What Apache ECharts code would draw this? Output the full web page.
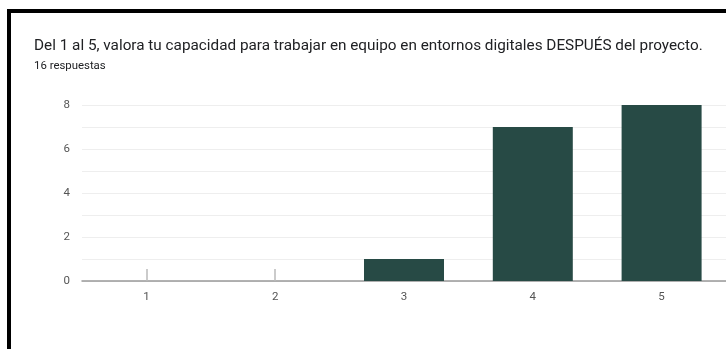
<!DOCTYPE html>
<html>
<head>
<meta charset="utf-8">
<script src="https://cdn.jsdelivr.net/npm/echarts@6/dist/echarts.min.js"></script>
<style>
  html, body { margin: 0; padding: 0; background: #fff; }
  #chart { width: 726px; height: 349px; }
</style>
</head>
<body>
<div id="chart"></div>
<script>
const titleText = 'Del 1 al 5, valora tu capacidad para trabajar en equipo en entornos digitales DESPUÉS del proyecto.';
const subtitleText = '16 respuestas';
const categories = ['1', '2', '3', '4', '5'];
const counts = [0, 0, 1, 7, 8];
const yTicks = [0, 2, 4, 6, 8];

const chart = echarts.init(document.getElementById('chart'), null, { renderer: 'canvas' });

chart.setOption({
  backgroundColor: '#ffffff',
  animation: false,
  title: {
    text: titleText,
    subtext: subtitleText,
    left: 29,
    top: 34,
    itemGap: 7,
    textStyle: { fontFamily: 'Roboto', fontSize: 15.3, fontWeight: 'normal', color: '#202124' },
    subtextStyle: { fontFamily: 'Roboto', fontSize: 11.4, color: '#202124' }
  },
  graphic: [
    { type: 'rect', shape: { x: 7, y: 9, width: 4, height: 340 }, style: { fill: '#000' }, z: 100 },
    { type: 'rect', shape: { x: 7, y: 9, width: 719, height: 4 }, style: { fill: '#000' }, z: 100 }
  ],
  grid: { left: 82, top: 105, width: 647, height: 176, containLabel: false },
  xAxis: {
    type: 'category',
    data: categories,
    axisLine: { show: true, lineStyle: { color: '#999999', width: 1.5 } },
    axisTick: { show: true, alignWithLabel: true, inside: true, length: 12, lineStyle: { color: '#bbbbbb', width: 1.5 } },
    axisLabel: { fontFamily: 'Roboto', fontSize: 11.5, color: '#555555', margin: 10 }
  },
  yAxis: {
    type: 'value',
    min: 0,
    max: 8,
    interval: 1,
    axisLine: { show: false },
    axisTick: { show: false },
    splitLine: { lineStyle: { color: '#eeeeee', width: 1 } },
    axisLabel: {
      fontFamily: 'Roboto', fontSize: 11.5, color: '#555555', margin: 12,
      formatter: v => (yTicks.indexOf(v) >= 0 ? String(v) : '')
    }
  },
  series: [{
    type: 'bar',
    data: counts,
    barWidth: 80,
    itemStyle: { color: '#274a45' }
  }]
});
</script>
</body>
</html>
